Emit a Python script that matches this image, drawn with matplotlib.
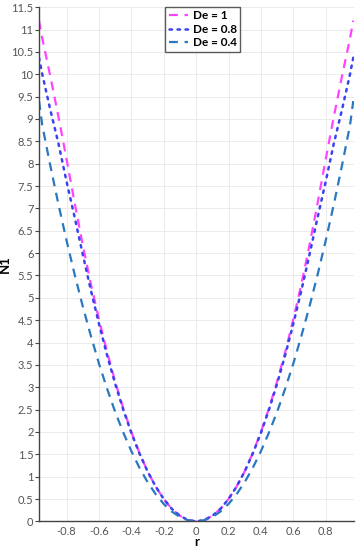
import numpy as np
import matplotlib
matplotlib.use("Agg")
import matplotlib.pyplot as plt

# Half profile (r >= 0); curves are symmetric in r
r_half = [0.0, 0.05, 0.1, 0.15, 0.2, 0.25, 0.3, 0.35, 0.4, 0.45, 0.5,
          0.55, 0.6, 0.65, 0.7, 0.75, 0.8, 0.85, 0.9, 0.95, 0.97]
n1_de1 = [0.0, 0.03, 0.125, 0.28, 0.50, 0.78, 1.12, 1.53, 2.00, 2.53, 3.13,
          3.79, 4.52, 5.31, 6.18, 7.12, 8.10, 9.05, 9.95, 10.8, 11.2]
n1_de08 = [0.0, 0.03, 0.125, 0.28, 0.50, 0.78, 1.12, 1.52, 1.98, 2.50, 3.08,
           3.72, 4.42, 5.17, 5.97, 6.80, 7.60, 8.45, 9.20, 10.0, 10.37]
n1_de04 = [0.0, 0.025, 0.098, 0.22, 0.39, 0.61, 0.88, 1.20, 1.57, 1.99, 2.45,
           2.97, 3.53, 4.15, 4.81, 5.52, 6.28, 7.09, 7.95, 8.86, 9.4]
labels = ["De = 1", "De = 0.8", "De = 0.4"]

x_ticks = [-0.8, -0.6, -0.4, -0.2, 0, 0.2, 0.4, 0.6, 0.8]
x_ticklabels = ["-0.8", "-0.6", "-0.4", "-0.2", "0", "0.2", "0.4", "0.6", "0.8"]
y_ticks = [i * 0.5 for i in range(24)]


def full(half):
    h = np.array(half)
    return np.concatenate([h[:0:-1], h])


r = np.concatenate([-np.array(r_half)[:0:-1], np.array(r_half)])

plt.rcParams["font.family"] = ["Lato", "DejaVu Sans"]

fig = plt.figure(figsize=(3.58, 5.5), dpi=100)
ax = fig.add_axes([0.109, 0.052, 0.880, 0.935])

ax.plot(r, full(n1_de1), color="#ff44ff", linestyle=(0, (4, 3)), linewidth=1.6,
        label=labels[0])
ax.plot(r, full(n1_de08), color="#3a44ee", linestyle=(0, (1, 2.2)), linewidth=1.8,
        dash_capstyle="round", label=labels[1])
ax.plot(r, full(n1_de04), color="#2a79c0", linestyle=(0, (4, 3)), linewidth=1.6,
        label=labels[2])

ax.set_xlim(-0.97, 0.975)
ax.set_ylim(0, 11.5)
ax.set_xticks(x_ticks)
ax.set_xticklabels(x_ticklabels)
ax.set_yticks(y_ticks)
ax.set_yticklabels(["{:g}".format(v) for v in y_ticks])

ax.grid(True, color="#ebebeb", linewidth=0.7)
ax.set_axisbelow(True)
for side in ["top", "right"]:
    ax.spines[side].set_visible(False)
for side in ["left", "bottom"]:
    ax.spines[side].set_color("#444444")
    ax.spines[side].set_linewidth(1.0)

ax.tick_params(axis="y", length=3, width=0.8, color="#444444",
               labelsize=8, labelcolor="#555555", pad=1)
ax.tick_params(axis="x", length=0, labelsize=8, labelcolor="#555555", pad=3)

ax.set_xlabel("r", fontsize=9.5, fontweight="bold")
ax.set_ylabel("N1", fontsize=9.5, fontweight="bold")
ax.xaxis.set_label_coords(0.5, -0.028)
ax.yaxis.set_label_coords(-0.088, 0.5)

leg = ax.legend(loc="upper center", bbox_to_anchor=(0.52, 1.012), fontsize=8.5,
                frameon=True, fancybox=False, handlelength=1.6,
                borderpad=0.3, labelspacing=0.2, handletextpad=0.4)
leg.get_frame().set_edgecolor("#333333")
leg.get_frame().set_linewidth(1.0)
for t in leg.get_texts():
    t.set_fontweight("bold")

fig.savefig("out.png", dpi=100)
